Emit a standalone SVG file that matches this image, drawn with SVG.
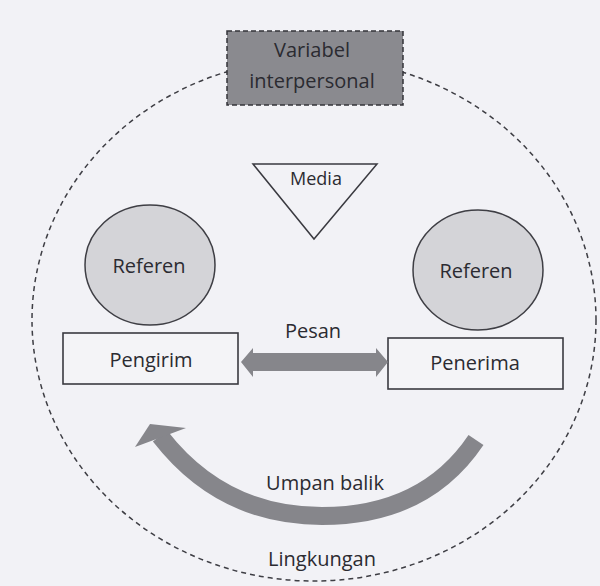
<svg xmlns="http://www.w3.org/2000/svg" width="600" height="586" viewBox="0 0 600 586">
<style>
text{font-family:"Open Sans","Liberation Sans",sans-serif;font-size:20px;fill:#2b2b31;text-anchor:middle}
.ref{fill:#d4d4d8;stroke:#3e3e44;stroke-width:1.5}
.box{fill:#f4f4f7;stroke:#3a3a40;stroke-width:1.6}
.gray{fill:#86868b}
</style>
<rect x="0" y="0" width="600" height="586" fill="#f2f2f6"/>
<g id="lingkungan">
<ellipse cx="314" cy="320" rx="282" ry="261" fill="none" stroke="#3e3e44" stroke-width="1.5" stroke-dasharray="5 4"/>
<text x="322" y="566">Lingkungan</text>
</g>
<g id="variabel">
<rect x="227" y="31" width="176" height="74" fill="#8a8a8f" stroke="#34343a" stroke-width="1.5" stroke-dasharray="5 3"/>
<text x="312" y="57">Variabel</text>
<text x="312" y="88">interpersonal</text>
</g>
<g id="media">
<polygon points="253,164 377,164 314,239" fill="none" stroke="#3a3a40" stroke-width="1.5"/>
<text x="316" y="185" style="font-size:18px">Media</text>
</g>
<g id="referen-kiri">
<ellipse class="ref" cx="150" cy="265" rx="65" ry="60"/>
<text x="149" y="273">Referen</text>
</g>
<g id="referen-kanan">
<ellipse class="ref" cx="478" cy="270" rx="65" ry="60"/>
<text x="476" y="278">Referen</text>
</g>
<g id="pengirim">
<rect class="box" x="63" y="333" width="175" height="51"/>
<text x="151" y="367">Pengirim</text>
</g>
<g id="penerima">
<rect class="box" x="388" y="338" width="175" height="51"/>
<text x="475" y="370">Penerima</text>
</g>
<g id="connectors">
<g id="pesan">
<polygon class="gray" points="241,362 253,348 253,353 376,353 376,348 388,362 376,377 376,371 253,371 253,377"/>
<text x="313" y="338">Pesan</text>
</g>
<g id="umpan-balik">
<path d="M476,440 Q425,516 322,516 Q222,516 160,436" fill="none" stroke="#86868b" stroke-width="18"/>
<polygon class="gray" points="135,447 150,424 186,428"/>
<text x="325" y="490">Umpan balik</text>
</g>
</g>
</svg>
